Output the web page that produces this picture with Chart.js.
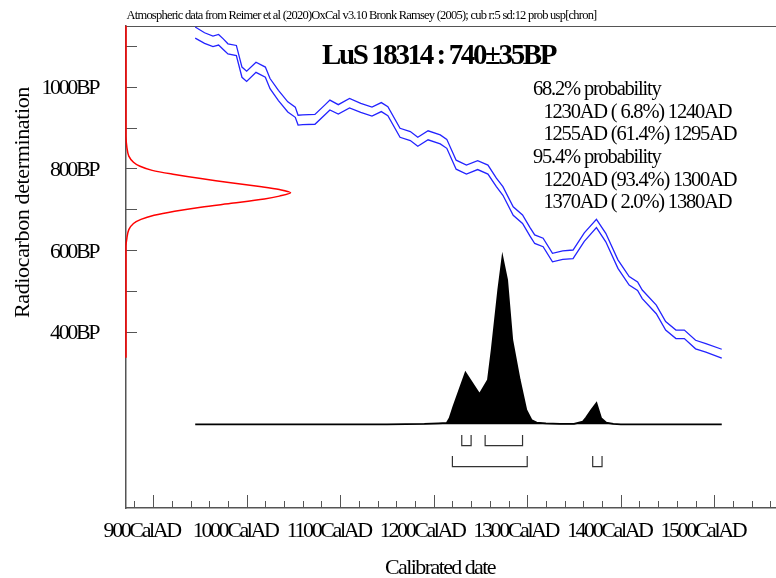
<!DOCTYPE html>
<html>
<head>
<meta charset="utf-8">
<title>LuS 18314 calibration</title>
<script src="https://cdn.jsdelivr.net/npm/chart.js@4.4.1/dist/chart.umd.min.js"></script>
<style>
  html, body { margin: 0; padding: 0; background: #fff; }
  canvas { display: block; }
</style>
</head>
<body>
<canvas id="oxcal" width="776" height="578"></canvas>
<script>
// calibration curve band (upper / lower edge)
const calYears   = [945, 955, 964, 970, 975, 980, 989, 995, 1000, 1010, 1020, 1025, 1034, 1044, 1052, 1055, 1060, 1073, 1084, 1089, 1098, 1110, 1122, 1134, 1144, 1151, 1164, 1175, 1183, 1194, 1207, 1214, 1224, 1235, 1247, 1258, 1267, 1274, 1285, 1295, 1303, 1308, 1317, 1327, 1338, 1349, 1361, 1374, 1384, 1397, 1409, 1418, 1423, 1438, 1448, 1459, 1468, 1480, 1491, 1508];
const curveUpper = [1146, 1132, 1124, 1128, 1117, 1105, 1101, 1048, 1038, 1060, 1048, 1020, 991, 963, 950, 930, 931, 932, 956, 967, 956, 971, 959, 950, 961, 951, 898, 890, 876, 892, 882, 871, 820, 808, 819, 808, 776, 755, 706, 686, 655, 637, 629, 592, 598, 600, 642, 675, 641, 576, 535, 522, 502, 465, 425, 404, 404, 379, 371, 357];
const curveLower = [1119, 1106, 1098, 1102, 1091, 1080, 1076, 1023, 1013, 1035, 1023, 995, 966, 938, 925, 906, 907, 908, 932, 943, 933, 948, 937, 928, 939, 929, 876, 868, 854, 870, 860, 849, 798, 786, 797, 786, 755, 734, 685, 665, 634, 616, 608, 571, 577, 579, 621, 655, 620, 555, 514, 501, 481, 444, 404, 383, 383, 358, 350, 335];

// radiocarbon measurement, drawn against the BP axis (width in calendar years from the left edge)
const labName = 'LuS 18314';
const c14Age = 740;
const c14Err = 35;
const measureBP    = [1149, 880, 850, 830, 815, 805, 795, 785, 775, 765, 755, 748, 740, 732, 725, 715, 705, 695, 685, 675, 665, 650, 630, 610, 336];
const measureWidth = [0, 0, 1, 3, 8, 15, 28, 52, 80, 112, 145, 164, 176, 164, 148, 115, 80, 52, 30, 16, 8, 3, 1, 0, 0];

// calibrated date probability (relative to the highest point)
const probYears  = [945, 1150, 1190, 1205, 1214, 1217, 1221, 1234, 1249, 1258, 1262, 1269, 1273.5, 1278.5, 1284, 1292, 1299, 1304.5, 1310, 1320, 1335, 1350, 1359.5, 1363, 1368.5, 1374, 1379, 1384.5, 1392, 1400, 1508];
const probValues = [0, 0, 0.003, 0.006, 0.008, 0.036, 0.105, 0.309, 0.18, 0.265, 0.445, 0.804, 1.0, 0.865, 0.505, 0.265, 0.086, 0.026, 0.01, 0.006, 0.003, 0.003, 0.016, 0.04, 0.086, 0.126, 0.036, 0.01, 0.003, 0, 0];

// ranges
const range68 = [[1230, 1240], [1255, 1295]];
const pct68   = [6.8, 61.4];
const range95 = [[1220, 1300], [1370, 1380]];
const pct95   = [93.4, 2.0];

// axes
const xMin = 871, xMax = 1566;
const yMin = -31.8, yMax = 1148.6;
const xMajorTicks = [900, 1000, 1100, 1200, 1300, 1400, 1500];
const yTicks = [400, 500, 600, 700, 800, 900, 1000, 1100];
const yLabelled = [400, 600, 800, 1000];
const header = 'Atmospheric data from Reimer et al (2020)OxCal v3.10 Bronk Ramsey (2005); cub r:5 sd:12 prob usp[chron]';

const xTickValues = [];
for (let v = 880; v <= 1560; v += 20) xTickValues.push(v);

const fmtPct = p => (p < 10 ? ' ' : '') + p.toFixed(1);
const rangeLine = (r, p) => `${r[0]}AD (${fmtPct(p)}%) ${r[1]}AD`;

function bracketPoints(ranges, top, bottom) {
    let pts = [];
    ranges.forEach(r => {
        pts.push({x: r[0], y: top}, {x: r[0], y: bottom}, {x: r[1], y: bottom}, {x: r[1], y: top}, {x: r[1], y: null});
    });
    return pts;
}

function fitText(ctx, s, x, y, font, width, align) {
    ctx.font = font;
    ctx.letterSpacing = '0px';
    const w = ctx.measureText(s).width;
    ctx.letterSpacing = ((width - w) / s.length) + 'px';
    ctx.textAlign = align || 'left';
    ctx.fillText(s, x, y);
}

const serif = '"Liberation Serif", "Times New Roman", serif';

const decor = {
    id: 'decor',
    beforeDraw(chart) {
        // squeeze the tick labels like the original output
        chart.ctx.letterSpacing = '-2.4px';
    },
    beforeDatasetsDraw(chart) {
        const {ctx, chartArea: a, scales} = chart;
        ctx.save();
        ctx.strokeStyle = '#555';
        ctx.lineWidth = 1;
        ctx.beginPath();
        ctx.moveTo(a.left, a.top + 0.5);
        ctx.lineTo(a.right, a.top + 0.5);
        scales.x.ticks.forEach(t => {
            const px = Math.round(scales.x.getPixelForValue(t.value)) + 0.5;
            const len = t.value % 100 === 0 ? 13 : 7;
            ctx.moveTo(px, a.bottom);
            ctx.lineTo(px, a.bottom - len);
        });
        scales.y.ticks.forEach(t => {
            const py = Math.round(scales.y.getPixelForValue(t.value)) + 0.5;
            ctx.moveTo(a.left, py);
            ctx.lineTo(a.left + 11, py);
        });
        ctx.stroke();
        ctx.restore();
    },
    afterDraw(chart) {
        const ctx = chart.ctx;
        ctx.save();
        ctx.fillStyle = '#000';
        ctx.textBaseline = 'alphabetic';

        fitText(ctx, header, 126.5, 18.5, '12.5px ' + serif, 470);
        fitText(ctx, `${labName} : ${c14Age}\u00b1${c14Err}BP`, 322, 63.5, 'bold 29px ' + serif, 233);

        const lines = [
            ['68.2% probability', 533],
            [rangeLine(range68[0], pct68[0]), 543.5],
            [rangeLine(range68[1], pct68[1]), 543.5],
            ['95.4% probability', 533],
            [rangeLine(range95[0], pct95[0]), 543.5],
            [rangeLine(range95[1], pct95[1]), 543.5],
        ];
        ctx.font = '20.5px ' + serif;
        ctx.letterSpacing = '-1.2px';
        ctx.textAlign = 'left';
        lines.forEach((l, i) => ctx.fillText(l[0], l[1], 95 + i * 22.66));

        fitText(ctx, 'Calibrated date', 440, 574, '22px ' + serif, 110, 'center');

        ctx.translate(28.5, 202.5);
        ctx.rotate(-Math.PI / 2);
        fitText(ctx, 'Radiocarbon determination', 0, 0, '22px ' + serif, 231, 'center');
        ctx.restore();
    }
};

const line = (data, color, width, extra) => Object.assign({
    data: data, borderColor: color, backgroundColor: color, borderWidth: width,
    pointRadius: 0, showLine: true, fill: false, tension: 0, spanGaps: false
}, extra || {});

const datasets = [
    line(calYears.map((x, i) => ({x: x, y: curveUpper[i]})), '#2323ff', 1.3),
    line(calYears.map((x, i) => ({x: x, y: curveLower[i]})), '#2323ff', 1.3),
    line(measureBP.map((b, i) => ({x: xMin + measureWidth[i], y: b})), '#ff0000', 1.5, {clip: false, tension: 0.3}),
    line(probYears.map((x, i) => ({x: x, y: probValues[i]})), '#000', 1.8, {yAxisID: 'yp', fill: 'origin'}),
    line(bracketPoints(range68, -0.064, -0.128), '#333', 1.2, {yAxisID: 'yp'}),
    line(bracketPoints(range95, -0.19, -0.2535), '#333', 1.2, {yAxisID: 'yp'}),
];

new Chart(document.getElementById('oxcal'), {
    type: 'scatter',
    data: {datasets: datasets},
    options: {
        responsive: false,
        animation: false,
        layout: {padding: {top: 26, left: 0, right: 0, bottom: 0}},
        plugins: {legend: {display: false}, tooltip: {enabled: false}},
        scales: {
            x: {
                type: 'linear', min: xMin, max: xMax,
                grid: {display: false, drawTicks: false},
                border: {display: true, color: '#555', width: 1.5},
                afterBuildTicks: s => { s.ticks = xTickValues.map(v => ({value: v})); },
                afterFit: s => { s.height = 70; s.paddingLeft = 0; s.paddingRight = 0; },
                ticks: {
                    autoSkip: false, maxRotation: 0, minRotation: 0,
                    padding: 10, labelOffset: -11.5, color: '#000',
                    font: {family: serif, size: 22},
                    callback: v => xMajorTicks.includes(v) ? v + 'CalAD' : ''
                }
            },
            y: {
                type: 'linear', min: yMin, max: yMax,
                grid: {display: false, drawTicks: false},
                border: {display: true, color: '#555', width: 1.5},
                afterBuildTicks: s => { s.ticks = yTicks.map(v => ({value: v})); },
                afterFit: s => { s.width = 126; s.paddingTop = 0; s.paddingBottom = 0; },
                ticks: {
                    autoSkip: false, padding: 28, labelOffset: 2, color: '#000',
                    font: {family: serif, size: 22},
                    callback: v => yLabelled.includes(v) ? v + 'BP' : ''
                }
            },
            yp: {
                type: 'linear', display: false, min: -0.5012, max: 2.3851
            }
        }
    },
    plugins: [decor]
});
</script>
</body>
</html>
